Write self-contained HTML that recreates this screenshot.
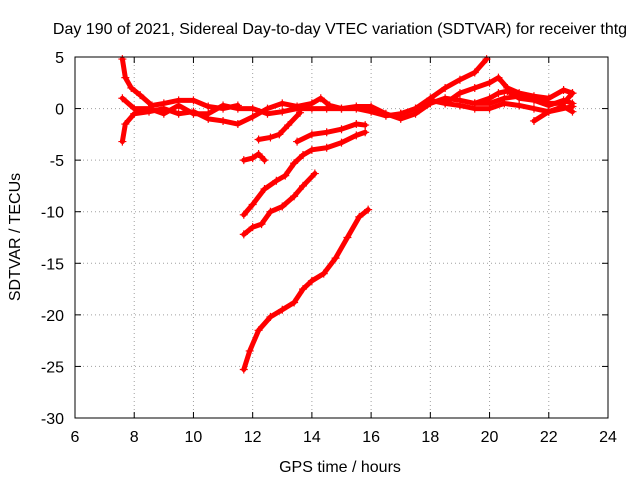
<!DOCTYPE html>
<html><head><meta charset="utf-8"><style>
body{margin:0;background:#fff}
svg{display:block;font-family:"Liberation Sans",sans-serif}
</style></head><body>
<svg id="c" width="640" height="480"></svg>
<script>
const xTicks=[6,8,10,12,14,16,18,20,22,24];
const yTicks=[5,0,-5,-10,-15,-20,-25,-30];
const track1=[[11.7,-25.3],[11.9,-23.5],[12.2,-21.5],[12.6,-20.2],[13.0,-19.5],[13.4,-18.8],[13.7,-17.5],[14.0,-16.7],[14.4,-16],[14.8,-14.5],[15.2,-12.5],[15.6,-10.5],[15.9,-9.8]];
const track2=[[11.7,-12.2],[12.0,-11.5],[12.3,-11.2],[12.6,-10],[13.0,-9.5],[13.4,-8.5],[13.7,-7.5],[14.1,-6.3]];
const track3=[[11.7,-10.3],[12.0,-9.3],[12.4,-7.8],[12.8,-7],[13.1,-6.5],[13.4,-5.3],[13.7,-4.5],[14.0,-4],[14.5,-3.8],[15.0,-3.3],[15.5,-2.6],[15.8,-2.3]];
const track4=[[11.7,-5],[12.0,-4.8],[12.2,-4.4],[12.4,-5]];
const track5=[[12.2,-3],[12.6,-2.8],[12.9,-2.5],[13.2,-1.6],[13.6,-0.4]];
const track6=[[13.5,-3.2],[14.0,-2.5],[14.5,-2.3],[15.0,-2],[15.5,-1.5],[15.8,-1.6]];
const trackA=[[7.6,4.8],[7.7,3],[7.9,2],[8.2,1.3],[8.6,0.3],[9,0.5],[9.5,0.8],[10,0.8],[10.5,0.2],[11,0],[11.5,0.3]];
const trackB=[[7.6,-3.2],[7.7,-1.5],[8,-0.5],[8.5,-0.3],[9,0],[9.5,-0.5],[10,-0.3],[10.5,-1],[11,-1.2],[11.5,-1.5],[12,-0.8],[12.5,0],[13,0.5],[13.5,0.2],[14,0.5],[14.3,1],[14.6,0.3],[15,0],[15.5,0.2],[16,0.2],[16.5,-0.5],[17,-1],[17.5,-0.5],[18,0.5],[18.5,1],[19,0.8],[19.5,0.5],[20,0.5],[20.5,1],[21,1.2],[21.5,1],[22,0.5],[22.5,0.5],[22.8,1.5]];
const trackC=[[7.6,1],[8,0],[8.5,0],[9,-0.5],[9.5,0.3],[10,-0.5],[10.5,-0.5],[11,0.3],[11.5,0],[12,0],[12.5,-0.5],[13,-0.3],[13.5,0],[14,0],[14.5,0],[15,0],[15.5,0],[16,-0.3],[16.5,-0.7],[17,-0.5],[17.5,0],[18,0.8],[18.5,0.5],[19,0.3],[19.5,0],[20,0],[20.5,0.5],[21,0.3],[21.5,0],[22,-0.3],[22.8,0.2]];
const trackD=[[17,-0.5],[17.5,0],[18,1],[18.5,2],[19,2.8],[19.5,3.5],[19.9,4.8]];
const trackE=[[18.5,0.5],[19,1.5],[19.5,2],[20,2.5],[20.3,3],[20.6,2],[21,1.5],[21.5,1.2],[22,1],[22.5,1.8],[22.8,1.5]];
const trackF=[[19.5,0.5],[20,1],[20.3,1.5],[20.6,1.7],[21,1],[21.5,0.8],[22,0.3],[22.5,0.8],[22.8,0.5]];
const trackG=[[21.5,-1.2],[22,-0.3],[22.5,0.2],[22.8,-0.3]];
const series=[track1,track2,track3,track4,track5,track6,trackA,trackB,trackC,trackD,trackE,trackF,trackG];

const L=75,R=608,T=57,B=418,xmin=6,xmax=24,ymin=-30,ymax=5;
const sx=v=>L+(v-xmin)/(xmax-xmin)*(R-L);
const sy=v=>B-(v-ymin)/(ymax-ymin)*(B-T);
const svg=document.getElementById('c');
const NS='http://www.w3.org/2000/svg';
function mk(tag,attrs,parent){const e=document.createElementNS(NS,tag);for(const k in attrs)e.setAttribute(k,attrs[k]);(parent||svg).appendChild(e);return e;}

xTicks.forEach(v=>{
  const x=sx(v);
  if(v>xmin&&v<xmax){const g=mk('line',{x1:x,x2:x,y1:T,y2:B,stroke:'#a0a0a0','stroke-dasharray':'1,3'});
  
  }
  mk('line',{x1:x,x2:x,y1:B,y2:B-6,stroke:'#000'});
  mk('line',{x1:x,x2:x,y1:T,y2:T+6,stroke:'#000'});
  const t=mk('text',{x:x,y:B+24,'text-anchor':'middle','font-size':'16'});t.textContent=v;
  
  
});
yTicks.forEach(v=>{
  const y=sy(v);
  if(v>ymin&&v<ymax){const g=mk('line',{x1:L,x2:R,y1:y,y2:y,stroke:'#a0a0a0','stroke-dasharray':'1,3'});
  
  }
  mk('line',{x1:L,x2:L+6,y1:y,y2:y,stroke:'#000'});
  mk('line',{x1:R,x2:R-6,y1:y,y2:y,stroke:'#000'});
  const t=mk('text',{x:L-11,y:y+6,'text-anchor':'end','font-size':'16'});t.textContent=v;
  
  
});

series.forEach((s,i)=>{
  const g=mk('g',{});
  
  
  mk('polyline',{points:s.map(p=>sx(p[0])+','+sy(p[1])).join(' '),fill:'none',stroke:'#f00','stroke-width':'5','stroke-linejoin':'round','stroke-linecap':'round'},g);
  s.forEach(p=>{const x=sx(p[0]),y=sy(p[1]);
    mk('path',{d:`M${x-4},${y}H${x+4}M${x},${y-4}V${y+4}`,stroke:'#f00','stroke-width':'1.2'},g);});
});

const border=mk('rect',{x:L,y:T,width:R-L,height:B-T,fill:'none',stroke:'#000'});


const title=mk('text',{x:340,y:34,'text-anchor':'middle','font-size':'16'});
title.textContent='Day 190 of 2021, Sidereal Day-to-day VTEC variation (SDTVAR) for receiver thtg';


const xl=mk('text',{x:340,y:472,'text-anchor':'middle','font-size':'16'});
xl.textContent='GPS time / hours';


const yl=mk('text',{x:0,y:0,'text-anchor':'middle','font-size':'16',transform:'translate(20,237) rotate(-90)'});
yl.textContent='SDTVAR / TECUs';


</script>
</body></html>
